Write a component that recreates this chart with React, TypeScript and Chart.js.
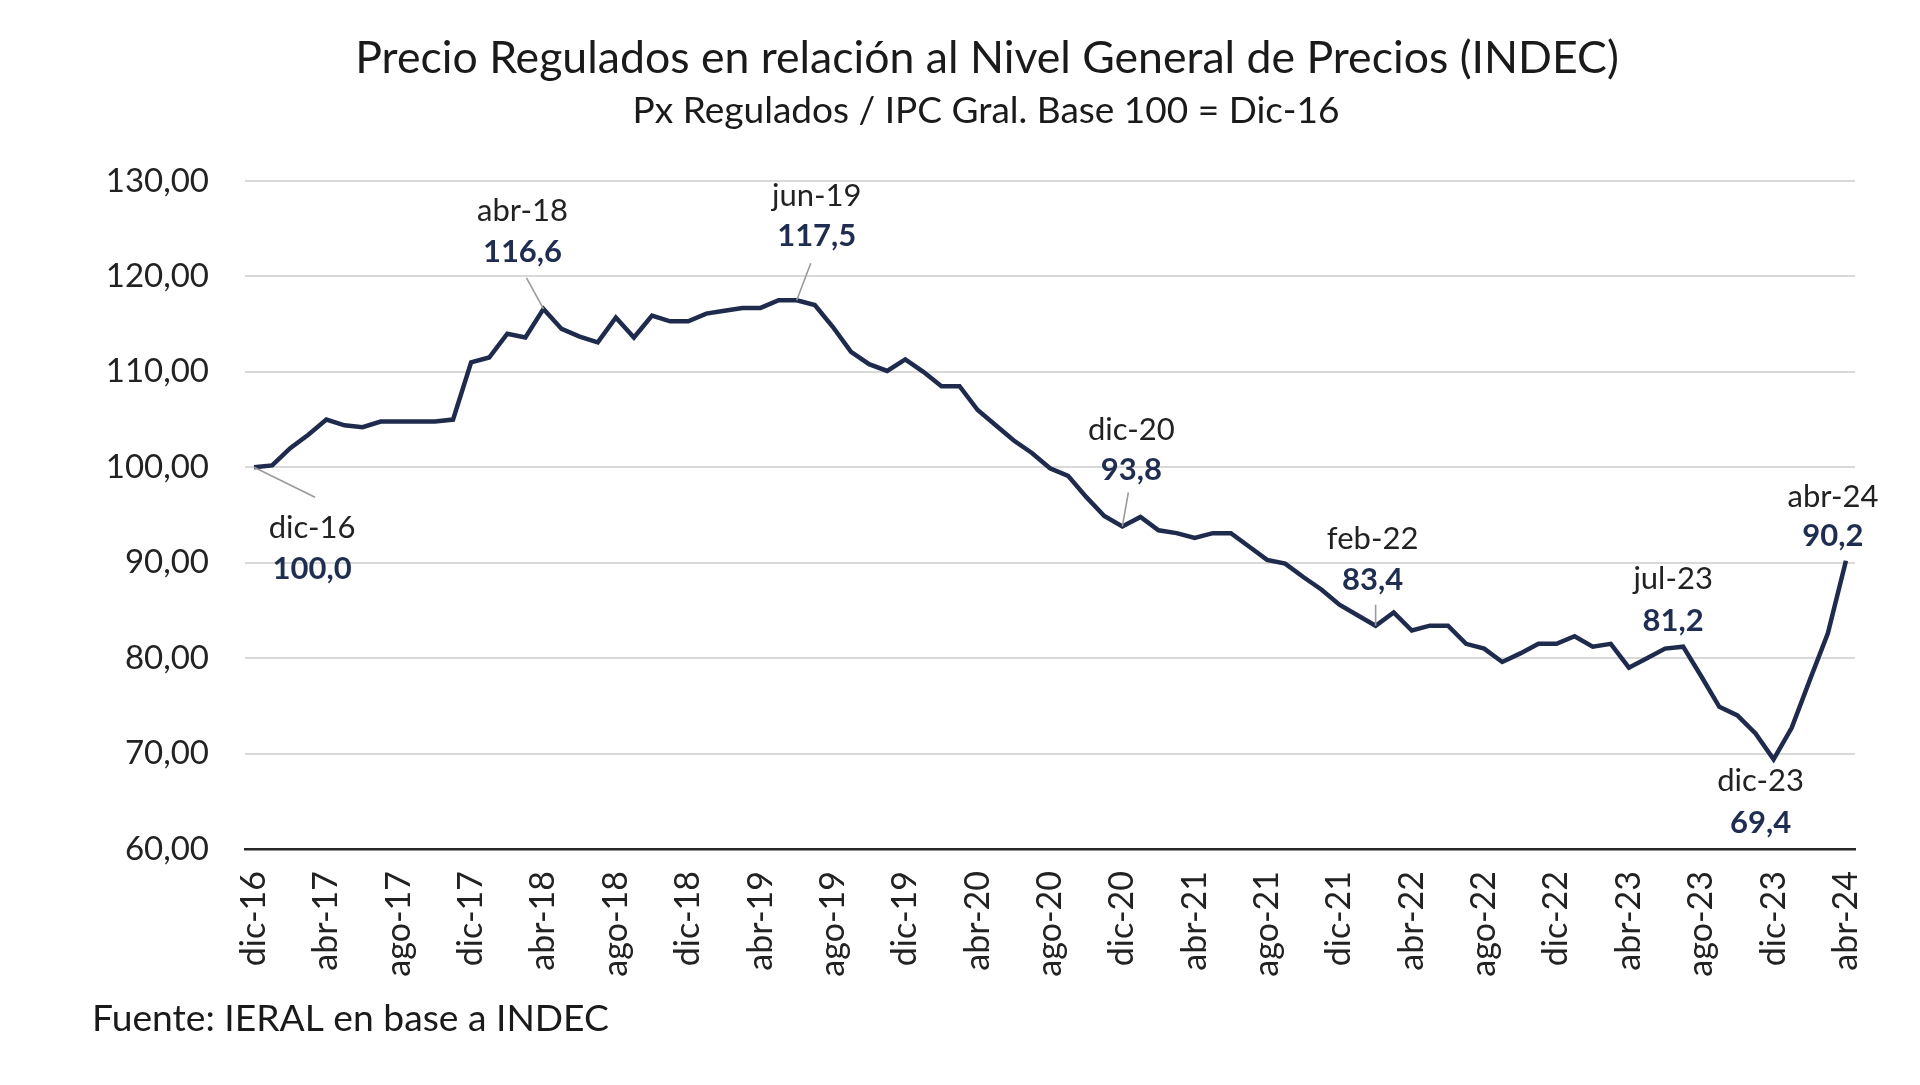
import React, { useEffect, useRef } from "react";
import { Chart, registerables } from "chart.js";

Chart.register(...registerables);

const categories: string[] = [
  "dic-16",
  "ene-17", "feb-17", "mar-17", "abr-17", "may-17", "jun-17", "jul-17", "ago-17", "sep-17", "oct-17", "nov-17", "dic-17",
  "ene-18", "feb-18", "mar-18", "abr-18", "may-18", "jun-18", "jul-18", "ago-18", "sep-18", "oct-18", "nov-18", "dic-18",
  "ene-19", "feb-19", "mar-19", "abr-19", "may-19", "jun-19", "jul-19", "ago-19", "sep-19", "oct-19", "nov-19", "dic-19",
  "ene-20", "feb-20", "mar-20", "abr-20", "may-20", "jun-20", "jul-20", "ago-20", "sep-20", "oct-20", "nov-20", "dic-20",
  "ene-21", "feb-21", "mar-21", "abr-21", "may-21", "jun-21", "jul-21", "ago-21", "sep-21", "oct-21", "nov-21", "dic-21",
  "ene-22", "feb-22", "mar-22", "abr-22", "may-22", "jun-22", "jul-22", "ago-22", "sep-22", "oct-22", "nov-22", "dic-22",
  "ene-23", "feb-23", "mar-23", "abr-23", "may-23", "jun-23", "jul-23", "ago-23", "sep-23", "oct-23", "nov-23", "dic-23",
  "ene-24", "feb-24", "mar-24", "abr-24",
];

const values: number[] = [
  100.0,
  100.2, 102.0, 103.4, 105.0, 104.4, 104.2, 104.8, 104.8, 104.8, 104.8, 105.0, 111.0,
  111.5, 114.0, 113.6, 116.6, 114.5, 113.7, 113.1, 115.7, 113.6, 115.9, 115.3, 115.3,
  116.1, 116.4, 116.7, 116.7, 117.5, 117.5, 117.0, 114.7, 112.1, 110.8, 110.1, 111.3,
  110.0, 108.5, 108.5, 106.0, 104.4, 102.8, 101.5, 99.9, 99.1, 96.9, 94.9, 93.8,
  94.8, 93.4, 93.1, 92.6, 93.1, 93.1, 91.7, 90.3, 89.9, 88.5, 87.2, 85.6,
  84.5, 83.4, 84.8, 82.9, 83.4, 83.4, 81.5, 81.0, 79.6, 80.5, 81.5, 81.5,
  82.3, 81.2, 81.5, 79.0, 80.0, 81.0, 81.2, 78.1, 74.9, 74.0, 72.1, 69.4,
  72.7, 77.7, 82.6, 90.2,
];

const tickLabels: string[] = [
  "dic-16", "abr-17", "ago-17", "dic-17", "abr-18", "ago-18", "dic-18", "abr-19", "ago-19", "dic-19",
  "abr-20", "ago-20", "dic-20", "abr-21", "ago-21", "dic-21", "abr-22", "ago-22", "dic-22", "abr-23",
  "ago-23", "dic-23", "abr-24",
];

const annotatedMonths: string[] = ["dic-16", "abr-18", "jun-19", "dic-20", "feb-22", "jul-23", "dic-23", "abr-24"];

// label placement relative to the point (pixels): dx, month dy, value dy, leader end (lx, ly)
const annotationPlacement: { dx: number; dyM: number; dyV: number; lx?: number; ly?: number }[] = [
  { dx: 58, dyM: 61, dyV: 102, lx: 61, ly: 30 },
  { dx: -21, dyM: -98, dyV: -57, lx: -17, ly: -31 },
  { dx: 20, dyM: -104, dyV: -64, lx: 14, ly: -37 },
  { dx: 9, dyM: -96, dyV: -56, lx: 6, ly: -34 },
  { dx: -3, dyM: -87, dyV: -46, lx: 0, ly: -21 },
  { dx: -10, dyM: -68, dyV: -26 },
  { dx: -13, dyM: 22, dyV: 64 },
  { dx: -13, dyM: -64, dyV: -25 },
];

const TITLE = "Precio Regulados en relación al Nivel General de Precios (INDEC)";
const SUBTITLE = "Px Regulados / IPC Gral. Base 100 = Dic-16";
const FOOTER = "Fuente: IERAL en base a INDEC";

const FONT = "Lato, 'Open Sans', sans-serif";

function fitText(ctx: CanvasRenderingContext2D, text: string, target: number, base: number, weight = "normal") {
  ctx.font = `${weight} ${base}px ${FONT}`;
  const w = ctx.measureText(text).width;
  return (base * target) / w;
}

const fmtComma = (v: number, d: number) => v.toFixed(d).replace(".", ",");

const textPlugin = {
  id: "customText",
  beforeDraw(chart: any) {
    const ctx = chart.ctx as CanvasRenderingContext2D;
    ctx.save();
    ctx.fillStyle = "#ffffff";
    ctx.fillRect(0, 0, chart.width, chart.height);
    ctx.restore();
  },
  afterDraw(chart: any) {
    const ctx = chart.ctx as CanvasRenderingContext2D;
    ctx.save();
    ctx.fillStyle = "#1a1a1a";
    ctx.textBaseline = "middle";
    ctx.textAlign = "center";
    const ts = fitText(ctx, TITLE, 1264, 40);
    ctx.font = `normal ${ts}px ${FONT}`;
    ctx.fillText(TITLE, 987, 59);
    const ss = fitText(ctx, SUBTITLE, 707, 32);
    ctx.font = `normal ${ss}px ${FONT}`;
    ctx.fillText(SUBTITLE, 986, 111);
    ctx.textAlign = "left";
    const fs = fitText(ctx, FOOTER, 517, 30);
    ctx.font = `normal ${fs}px ${FONT}`;
    ctx.fillText(FOOTER, 92, 1019);
    ctx.restore();
  },
  afterDatasetsDraw(chart: any) {
    const ctx = chart.ctx as CanvasRenderingContext2D;
    const xs = chart.scales.x;
    const ys = chart.scales.y;
    ctx.save();
    annotatedMonths.forEach((m, k) => {
      const i = categories.indexOf(m);
      const p = annotationPlacement[k];
      const x = xs.getPixelForValue(i);
      const y = ys.getPixelForValue(values[i]);
      if (p.lx !== undefined && p.ly !== undefined) {
        ctx.strokeStyle = "#9a9a9a";
        ctx.lineWidth = 1.6;
        ctx.beginPath();
        ctx.moveTo(x, y);
        ctx.lineTo(x + p.lx, y + p.ly);
        ctx.stroke();
      }
      ctx.textAlign = "center";
      ctx.textBaseline = "middle";
      ctx.fillStyle = "#222222";
      ctx.font = `normal 31px ${FONT}`;
      ctx.fillText(m, x + p.dx, y + p.dyM);
      ctx.fillStyle = "#1F2D50";
      ctx.font = `bold 31px ${FONT}`;
      ctx.fillText(fmtComma(values[i], 1), x + p.dx, y + p.dyV);
    });
    ctx.restore();
  },
};

export default function App() {
  const ref = useRef<HTMLCanvasElement | null>(null);
  useEffect(() => {
    if (!ref.current) return;
    const tickSet = new Set(tickLabels);
    const chart = new Chart(ref.current, {
      type: "line",
      data: {
        labels: categories,
        datasets: [
          {
            data: values,
            borderColor: "#1F2B4D",
            borderWidth: 4.5,
            pointRadius: 0,
            tension: 0,
            fill: false,
          },
        ],
      },
      options: {
        responsive: false,
        animation: false,
        layout: { padding: { top: 181, left: 0, right: 65, bottom: 0 } },
        plugins: {
          legend: { display: false },
          title: { display: false },
          tooltip: { enabled: false },
        },
        scales: {
          x: {
            type: "category",
            offset: true,
            grid: { display: false, drawTicks: false },
            border: { display: true, color: "#262626", width: 2.5 },
            ticks: {
              autoSkip: false,
              maxRotation: 90,
              minRotation: 90,
              padding: 22,
              color: "#222222",
              font: { family: FONT, size: 34 },
              callback: (_v: any, idx: number) => (tickSet.has(categories[idx]) ? categories[idx] : ""),
            },
            afterFit: (s: any) => {
              s.height = 236;
            },
          },
          y: {
            min: 60,
            max: 130,
            ticks: {
              stepSize: 10,
              padding: 36,
              color: "#222222",
              font: { family: FONT, size: 33 },
              callback: (v: any) => fmtComma(Number(v), 2),
            },
            grid: {
              drawTicks: false,
              lineWidth: 2,
              color: (c: any) => (c.tick && c.tick.value === 60 ? "#262626" : "#D9D9D9"),
            },
            border: { display: false },
            afterFit: (s: any) => {
              s.width = 245;
            },
          },
        },
      },
      plugins: [textPlugin],
    });
    return () => chart.destroy();
  }, []);
  return (
    <div style={{ position: "fixed", left: 0, top: 0, width: 1920, height: 1085, background: "#fff" }}>
      <canvas ref={ref} width={1920} height={1085} style={{ display: "block", width: 1920, height: 1085 }} />
    </div>
  );
}
